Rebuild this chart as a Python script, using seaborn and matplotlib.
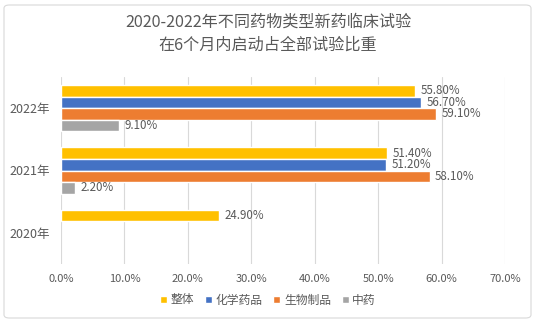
import matplotlib
matplotlib.use("Agg")
import matplotlib.pyplot as plt
import seaborn as sns
import pandas as pd
import numpy as np
from matplotlib.patches import FancyBboxPatch

years = ["2022年", "2021年", "2020年"]
series = ["整体", "化学药品", "生物制品", "中药"]
overall = [55.8, 51.4, 24.9]
chemical = [56.7, 51.2, np.nan]
biologic = [59.1, 58.1, np.nan]
tcm = [9.1, 2.2, np.nan]
colors = ["#FFC000", "#4472C4", "#ED7D31", "#A5A5A5"]
xticks = [0, 10, 20, 30, 40, 50, 60, 70]

rows = []
for s, vals in zip(series, [overall, chemical, biologic, tcm]):
    for y, v in zip(years, vals):
        rows.append({"year": y, "series": s, "value": v})
df = pd.DataFrame(rows)

sns.set_theme(style="white")
plt.rcParams["font.family"] = ["Noto Sans CJK SC", "DejaVu Sans"]

fig = plt.figure(figsize=(5.36, 3.23), dpi=100)
ax = fig.add_axes([61/536, 1-264/323, (505-61)/536, (264-77)/323])

sns.barplot(data=df, y="year", x="value", hue="series", order=years,
            hue_order=series, palette=colors, orient="h", width=0.74,
            gap=0, ax=ax, legend=True, saturation=1, errorbar=None)

for cont in ax.containers:
    labels = [("" if np.isnan(v) else f"{v:.2f}%") for v in cont.datavalues]
    ax.bar_label(cont, labels=labels, padding=4, fontsize=8.3, color="#595959")

ax.set_xlim(0, 70)
ax.set_xticks(xticks)
ax.set_xticklabels([f"{t:.1f}%" for t in xticks], fontsize=8, color="#595959")
ax.tick_params(axis="x", length=0, pad=7)
ax.tick_params(axis="y", length=0, pad=8, labelsize=9, labelcolor="#595959")
ax.set_xlabel("")
ax.set_ylabel("")
ax.grid(axis="x", color="#D9D9D9", linewidth=0.8)
ax.set_axisbelow(True)
for sp in ax.spines.values():
    sp.set_visible(False)

handles, labs = ax.get_legend_handles_labels()
ax.legend_.remove()
fig.legend(handles, labs, loc="center", bbox_to_anchor=(0.5, 1-300/323),
           ncol=4, frameon=False, fontsize=8.5, handlelength=0.6, handleheight=0.6,
           handletextpad=0.3, columnspacing=0.9, labelcolor="#595959")

fig.text(0.5, 1-22/323, "2020-2022年不同药物类型新药临床试验", ha="center", va="center",
         fontsize=11.6, color="#595959")
fig.text(0.5, 1-45/323, "在6个月内启动占全部试验比重", ha="center", va="center",
         fontsize=11.6, color="#595959")

border = FancyBboxPatch((4/536, 5/323), 527/536, 313/323, boxstyle="round,pad=0,rounding_size=0.01",
                        transform=fig.transFigure, fill=False, edgecolor="#D9D9D9", linewidth=0.8)
fig.patches.append(border)

fig.savefig("out.png", dpi=100)
